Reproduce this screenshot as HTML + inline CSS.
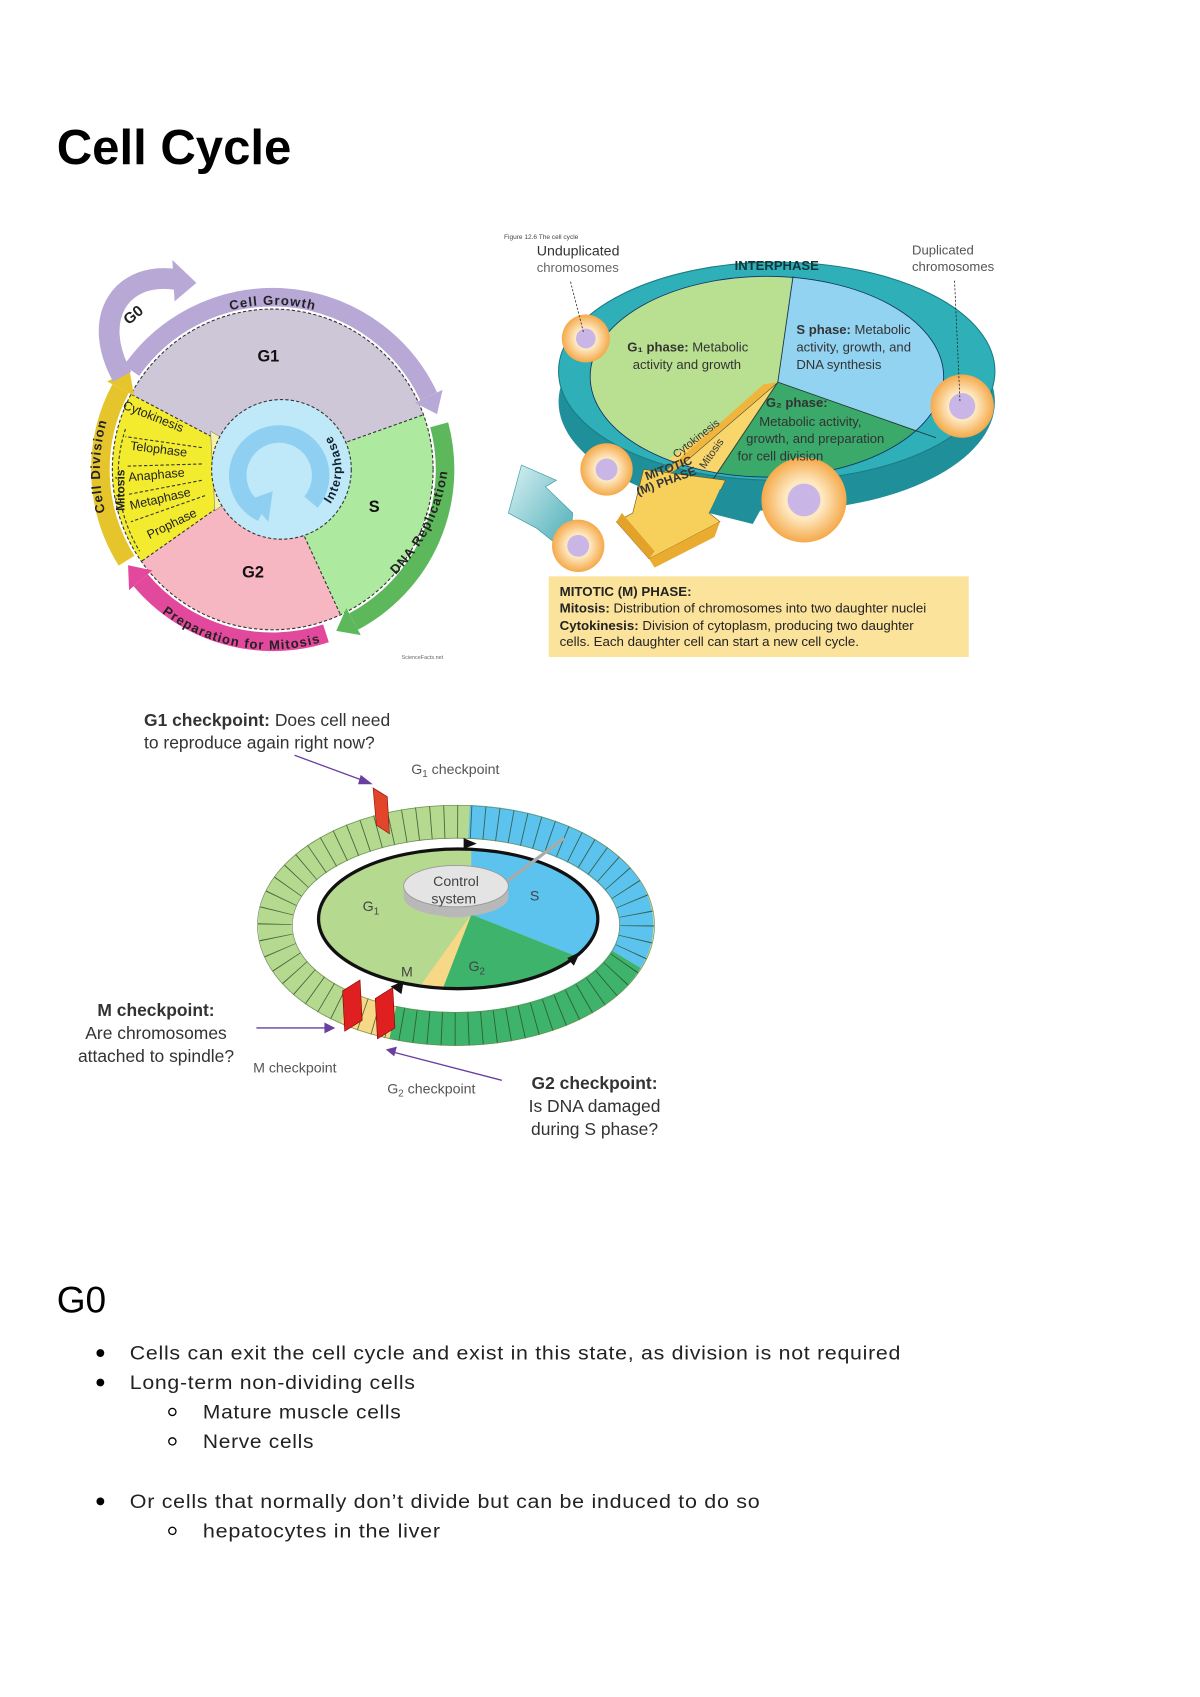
<!DOCTYPE html>
<html><head><meta charset="utf-8"><style>
html,body{margin:0;padding:0;background:#fff}
svg{display:block}
</style></head><body>
<svg width="1200" height="1697" viewBox="0 0 1100 1555" xmlns="http://www.w3.org/2000/svg" font-family="Liberation Sans, Arial, sans-serif">
<defs>
<clipPath id="c1"><circle cx="250" cy="430" r="147"/></clipPath>
<clipPath id="c2"><ellipse cx="703" cy="345" rx="162" ry="92"/></clipPath>
<clipPath id="c3"><ellipse cx="420" cy="842" rx="128" ry="64"/></clipPath>
<radialGradient id="cell" cx="50%" cy="50%" r="50%"><stop offset="0.45" stop-color="#fde8c0"/><stop offset="1" stop-color="#f5a94a"/></radialGradient>
<linearGradient id="tarrow" x1="0" y1="0" x2="1" y2="1"><stop offset="0" stop-color="#d8f1f3"/><stop offset="1" stop-color="#46aab5"/></linearGradient>
<path id="pGrowth" d="M173.5,299.9 A151,151 0 0 1 326.5,299.9"/>
<path id="pDNA" d="M339.6,545.6 A164,164 0 0 0 411.5,401.5"/>
<path id="pPrep" d="M123.2,537.6 A164,164 0 0 0 326.6,575"/>
<path id="pDiv" d="M104.4,492.7 A158,158 0 0 1 107.1,362"/>
<path id="pInter" d="M276,482 A55,55 0 0 0 276,378"/>
</defs>

<!-- Title -->
<text x="52" y="150" font-size="45" font-weight="bold" fill="#000">Cell Cycle</text>

<!-- ================= Diagram 1 ================= -->
<g clip-path="url(#c1)">
<polygon points="250,430 -15,289 -15,100 540,100 532,327" fill="#cdc7d7"/>
<polygon points="250,430 532,327 600,327 600,700 377,702" fill="#aee9a0"/>
<polygon points="250,430 377,702 4,602" fill="#f6b7c3"/>
<polygon points="250,430 4,602 -15,289" fill="#f3ec2e"/>
</g>
<circle cx="250" cy="430" r="147" fill="none" stroke="#333" stroke-width="1" stroke-dasharray="3,2"/>
<g stroke="#333" stroke-width="1" stroke-dasharray="3,2">
<line x1="194" y1="400" x2="120" y2="361"/>
<line x1="309" y1="408" x2="388" y2="380"/>
<line x1="277" y1="487" x2="312" y2="563"/>
<line x1="198" y1="466" x2="130" y2="514"/>
<line x1="185" y1="410" x2="115" y2="400"/>
<line x1="185" y1="425" x2="117" y2="427"/>
<line x1="185" y1="440" x2="117" y2="453"/>
<line x1="188" y1="454" x2="120" y2="478"/>
<path d="M115,393 A135,135 0 0 0 128,505" fill="none"/>
</g>
<polygon points="193,395 250,428 197,468" fill="#f7f1a6" stroke="#888" stroke-width="0.6"/>
<text x="207" y="434" font-size="15" font-weight="bold" fill="#111" text-anchor="middle">M</text>
<circle cx="258" cy="430" r="64" fill="#bfe9f8" stroke="#333" stroke-width="1" stroke-dasharray="3,2"/>
<path d="M240,470 A38,38 0 1 1 285,460" fill="none" stroke="#8ecff2" stroke-width="16"/>
<polygon points="228,458 250,450 246,478" fill="#8ecff2"/>
<text font-size="11.5" font-weight="bold" fill="#123" letter-spacing="1"><textPath href="#pInter" startOffset="50%" text-anchor="middle">Interphase</textPath></text>
<text x="246" y="331" font-size="15" font-weight="bold" text-anchor="middle" fill="#111">G1</text>
<text x="343" y="469" font-size="15" font-weight="bold" text-anchor="middle" fill="#111">S</text>
<text x="232" y="529" font-size="15" font-weight="bold" text-anchor="middle" fill="#111">G2</text>
<g font-size="11.5" fill="#222">
<text transform="translate(112,374) rotate(22)">Cytokinesis</text>
<text transform="translate(119,412) rotate(7)">Telophase</text>
<text transform="translate(118,441) rotate(-5)">Anaphase</text>
<text transform="translate(120,467) rotate(-13)">Metaphase</text>
<text transform="translate(137,494) rotate(-26)">Prophase</text>
<text transform="translate(114,468) rotate(-90)" font-weight="bold" font-size="11">Mitosis</text>
</g>
<!-- outer arrows -->
<path d="M120.6,339.4 A158,158 0 0 1 393,363" fill="none" stroke="#b7a8d6" stroke-width="17"/>
<polygon points="400.6,379.3 405.7,357.1 380.3,368.9" fill="#b7a8d6"/>
<path d="M402.6,389.1 A158,158 0 0 1 324.1,569.5" fill="none" stroke="#5cb85a" stroke-width="17"/>
<polygon points="308.2,578 330.7,581.9 317.5,557.1" fill="#5cb85a"/>
<path d="M298.8,580.3 A158,158 0 0 1 129,531.6" fill="none" stroke="#e2499c" stroke-width="17"/>
<polygon points="117.4,517.8 118.3,540.6 139.7,522.6" fill="#e2499c"/>
<path d="M116,513.7 A158,158 0 0 1 110.5,355.9" fill="none" stroke="#e6c52c" stroke-width="17"/>
<polygon points="118.9,340 98.1,349.3 122.9,362.5" fill="#e6c52c"/>
<path d="M112,345 C82,290 112,248 162,256" fill="none" stroke="#b7a8d6" stroke-width="19"/>
<polygon points="158,238 160,276 180,259" fill="#b7a8d6"/>
<text transform="translate(118,298) rotate(-40)" font-size="14" font-weight="bold" fill="#222">G0</text>
<g font-size="12" font-weight="bold" fill="#222" letter-spacing="1">
<text><textPath href="#pGrowth" startOffset="50%" text-anchor="middle">Cell Growth</textPath></text>
<text><textPath href="#pDNA" startOffset="50%" text-anchor="middle">DNA Replication</textPath></text>
<text><textPath href="#pPrep" startOffset="50%" text-anchor="middle">Preparation for Mitosis</textPath></text>
<text><textPath href="#pDiv" startOffset="50%" text-anchor="middle">Cell Division</textPath></text>
</g>
<text x="368" y="604" font-size="5" fill="#666">ScienceFacts.net</text>

<!-- ================= Diagram 2 ================= -->
<text x="462" y="219" font-size="6" fill="#444">Figure 12.6 The cell cycle</text>
<ellipse cx="712" cy="368" rx="200" ry="100" fill="#1f8f99"/>
<ellipse cx="712" cy="340" rx="200" ry="100" fill="#2fb0b8" stroke="#1a7d86" stroke-width="1"/>
<g clip-path="url(#c2)">
<polygon points="713,350 740,150 450,150 450,535" fill="#b9df90"/>
<polygon points="713,350 740,150 950,150 950,433" fill="#92d3f2"/>
<polygon points="713,350 950,433 950,700 580,550" fill="#3aa96a"/>
<polygon points="713,350 580,550 450,535" fill="#f8d66c"/>
</g>
<ellipse cx="703" cy="345" rx="162" ry="92" fill="none" stroke="#136" stroke-width="0.8"/>
<g stroke="#233" stroke-width="0.8"><line x1="713" y1="350" x2="727" y2="253"/><line x1="713" y1="350" x2="858" y2="401"/><line x1="713" y1="350" x2="645" y2="452"/><line x1="713" y1="350" x2="620" y2="430"/></g>
<polygon points="713,350 620,430 595,445 700,352" fill="#f0b53c"/>
<!-- yellow M arrow -->
<polygon points="590,430 665,440 650,470 660,478 595,512 565,478 580,470" fill="#f7d05c" stroke="#7a5a10" stroke-width="0.6"/>
<polygon points="565,478 595,512 600,505 570,470" fill="#e3a22a"/>
<polygon points="595,512 660,478 655,492 600,520" fill="#e9ac31"/>
<!-- teal left arrow -->
<polygon points="466,470 478,426 510,440 500,446 525,470 522,508 492,484" fill="url(#tarrow)" stroke="#3a9aa5" stroke-width="0.6"/>
<!-- teal curved arrow -->
<polygon points="650,470 660,448 700,462 690,480" fill="#1f8f99"/>
<!-- cells -->
<g>
<circle cx="537" cy="310" r="22" fill="url(#cell)"/><circle cx="537" cy="310" r="9" fill="#c9b6e6"/>
<circle cx="882" cy="372" r="29" fill="url(#cell)"/><circle cx="882" cy="372" r="12" fill="#c9b6e6"/>
<circle cx="556" cy="430" r="24" fill="url(#cell)"/><circle cx="556" cy="430" r="10" fill="#c9b6e6"/>
<circle cx="737" cy="458" r="39" fill="url(#cell)"/><circle cx="737" cy="458" r="15" fill="#c9b6e6"/>
<circle cx="530" cy="500" r="24" fill="url(#cell)"/><circle cx="530" cy="500" r="10" fill="#c9b6e6"/>
</g>
<g stroke="#222" stroke-width="0.7" stroke-dasharray="2,1.5"><line x1="523" y1="258" x2="535" y2="305"/><line x1="875" y1="257" x2="880" y2="368"/></g>
<g font-size="12" fill="#333">
<text x="492" y="234" font-size="13">Unduplicated</text>
<text x="492" y="249" fill="#666">chromosomes</text>
<text x="836" y="233" fill="#555">Duplicated</text>
<text x="836" y="248" fill="#555">chromosomes</text>
<text x="712" y="247" font-weight="bold" text-anchor="middle" fill="#10363a">INTERPHASE</text>
<text x="575" y="322"><tspan font-weight="bold">G₁ phase:</tspan> Metabolic</text>
<text x="580" y="338">activity and growth</text>
<text x="730" y="306"><tspan font-weight="bold">S phase:</tspan> Metabolic</text>
<text x="730" y="322">activity, growth, and</text>
<text x="730" y="338">DNA synthesis</text>
<text x="702" y="373" font-weight="bold">G₂ phase:</text>
<text x="696" y="390">Metabolic activity,</text>
<text x="684" y="406">growth, and preparation</text>
<text x="676" y="422">for cell division</text>
<text transform="translate(593,440) rotate(-20)" font-weight="bold" font-size="11">MITOTIC</text>
<text transform="translate(585,454) rotate(-20)" font-weight="bold" font-size="11">(M) PHASE</text>
<text transform="translate(620,420) rotate(-38)" font-size="10">Cytokinesis</text>
<text transform="translate(646,430) rotate(-55)" font-size="10">Mitosis</text>
</g>
<rect x="503" y="528" width="385" height="74" fill="#fbe39c"/>
<g font-size="12.2" fill="#222">
<text x="513" y="546" font-weight="bold">MITOTIC (M) PHASE:</text>
<text x="513" y="561"><tspan font-weight="bold">Mitosis:</tspan> Distribution of chromosomes into two daughter nuclei</text>
<text x="513" y="577"><tspan font-weight="bold">Cytokinesis:</tspan> Division of cytoplasm, producing two daughter</text>
<text x="513" y="592">cells. Each daughter cell can start a new cell cycle.</text>
</g>

<!-- ================= Diagram 3 ================= -->
<g font-size="16" fill="#333">
<text x="132" y="665"><tspan font-weight="bold">G1 checkpoint:</tspan> Does cell need</text>
<text x="132" y="686">to reproduce again right now?</text>
<text x="143" y="931" font-weight="bold" text-anchor="middle">M checkpoint:</text>
<text x="143" y="952" text-anchor="middle">Are chromosomes</text>
<text x="143" y="973" text-anchor="middle">attached to spindle?</text>
<text x="545" y="998" font-weight="bold" text-anchor="middle">G2 checkpoint:</text>
<text x="545" y="1019" text-anchor="middle">Is DNA damaged</text>
<text x="545" y="1040" text-anchor="middle">during S phase?</text>
</g>
<g font-size="13" fill="#555">
<text x="377" y="709">G<tspan font-size="9" dy="3">1</tspan><tspan dy="-3"> checkpoint</tspan></text>
<text x="232" y="983">M checkpoint</text>
<text x="355" y="1002">G<tspan font-size="9" dy="3">2</tspan><tspan dy="-3"> checkpoint</tspan></text>
</g>
<g stroke="#6a3fa0" stroke-width="1.2" fill="#6a3fa0">
<line x1="270" y1="692" x2="335" y2="716"/><polygon points="340,718 331,711 329,718"/>
<line x1="235" y1="942" x2="300" y2="942"/><polygon points="306,942 298,938 298,946"/>
<line x1="460" y1="990" x2="360" y2="964"/><polygon points="355,962 363,960 361,967"/>
</g>
<!-- ring -->
<ellipse cx="418" cy="848" rx="166" ry="95" fill="none" stroke="#b5d98e" stroke-width="31"/>
<path d="M430,753 A166,95 0 0 1 574,879" fill="none" stroke="#5bc3ee" stroke-width="31"/>
<path d="M574,879 A166,95 0 0 1 360,937" fill="none" stroke="#3db36b" stroke-width="31"/>
<path d="M360,937 A166,95 0 0 1 318,924" fill="none" stroke="#f7d886" stroke-width="31"/>
<ellipse cx="418" cy="848" rx="166" ry="95" fill="none" stroke="#2b4a2b" stroke-width="31" stroke-dasharray="0.8,11.5" opacity="0.8"/>
<ellipse cx="418" cy="848" rx="182" ry="110" fill="none" stroke="#6a8a5a" stroke-width="0.6"/>
<ellipse cx="418" cy="848" rx="150" ry="80" fill="none" stroke="#6a8a5a" stroke-width="0.6"/>
<!-- disc -->
<g clip-path="url(#c3)">
<rect x="280" y="770" width="280" height="150" fill="#b5d98e"/>
<polygon points="432,838 432,700 600,700 600,905" fill="#5bc3ee"/>
<polygon points="432,838 600,905 600,960 385,960" fill="#3db36b"/>
<polygon points="432,838 385,960 345,960" fill="#f7d886"/>
</g>
<ellipse cx="420" cy="842" rx="128" ry="64" fill="none" stroke="#111" stroke-width="3"/>
<polygon points="425,768 425,778 437,773" fill="#111"/>
<polygon points="520,878 532,872 526,885" fill="#111"/>
<polygon points="358,904 370,899 368,911" fill="#111"/>
<!-- control system -->
<line x1="455" y1="815" x2="517" y2="768" stroke="#aaa" stroke-width="3"/>
<ellipse cx="418" cy="832" rx="22" ry="9" fill="#bbb"/>
<path d="M370,812 L370,822 A48,18 0 0 0 466,822 L466,812 Z" fill="#b8b8b8"/>
<ellipse cx="418" cy="812" rx="48" ry="19" fill="#e4e4e4" stroke="#999" stroke-width="0.8"/>
<g font-size="13" fill="#444" text-anchor="middle">
<text x="418" y="812">Control</text>
<text x="416" y="828">system</text>
<text x="340" y="835">G<tspan font-size="9" dy="3">1</tspan></text>
<text x="490" y="825">S</text>
<text x="437" y="890">G<tspan font-size="9" dy="3">2</tspan></text>
<text x="373" y="895">M</text>
</g>
<!-- checkpoints -->
<polygon points="342,722 355,730 357,764 345,756" fill="#e2452a" stroke="#8a1a0a" stroke-width="0.6"/>
<polygon points="314,908 330,898 332,935 316,945" fill="#e02020" stroke="#7a0a0a" stroke-width="0.6"/>
<polygon points="344,915 360,905 362,942 346,952" fill="#e02020" stroke="#7a0a0a" stroke-width="0.6"/>

<!-- ================= G0 section ================= -->
<text x="52" y="1203" font-size="34" fill="#000">G0</text>
<g font-size="18" fill="#222" letter-spacing="0.6">
<circle cx="92" cy="1240" r="3.6" fill="#000"/>
<text x="119" y="1246" textLength="707" lengthAdjust="spacingAndGlyphs">Cells can exit the cell cycle and exist in this state, as division is not required</text>
<circle cx="92" cy="1267" r="3.6" fill="#000"/>
<text x="119" y="1273" textLength="262" lengthAdjust="spacingAndGlyphs">Long-term non-dividing cells</text>
<circle cx="158" cy="1294" r="3.3" fill="none" stroke="#000" stroke-width="1.2"/>
<text x="186" y="1300" textLength="182" lengthAdjust="spacingAndGlyphs">Mature muscle cells</text>
<circle cx="158" cy="1321" r="3.3" fill="none" stroke="#000" stroke-width="1.2"/>
<text x="186" y="1327" textLength="102" lengthAdjust="spacingAndGlyphs">Nerve cells</text>
<circle cx="92" cy="1376" r="3.6" fill="#000"/>
<text x="119" y="1382" textLength="578" lengthAdjust="spacingAndGlyphs">Or cells that normally don’t divide but can be induced to do so</text>
<circle cx="158" cy="1403" r="3.3" fill="none" stroke="#000" stroke-width="1.2"/>
<text x="186" y="1409" textLength="218" lengthAdjust="spacingAndGlyphs">hepatocytes in the liver</text>
</g>
</svg>
</body></html>
